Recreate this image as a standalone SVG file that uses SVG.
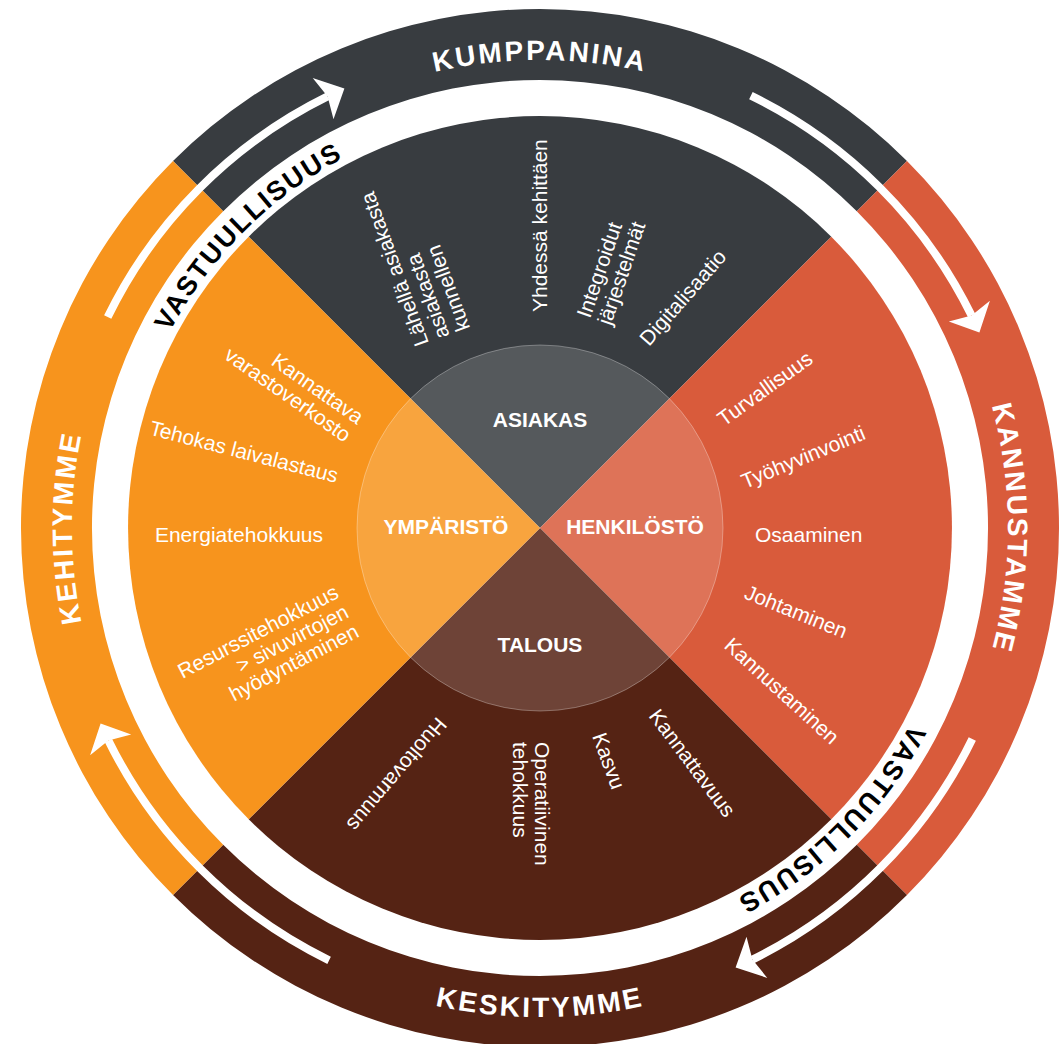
<svg xmlns="http://www.w3.org/2000/svg" xmlns:xlink="http://www.w3.org/1999/xlink" width="1063" height="1044" viewBox="0 0 1063 1044">
<style>
.item{font-family:"Liberation Sans",Arial,sans-serif;font-size:21px;fill:#fff}
.hub{font-family:"Liberation Sans",Arial,sans-serif;font-size:21px;font-weight:bold;fill:#fff;text-anchor:middle}
.ring{font-family:"Liberation Sans",Arial,sans-serif;font-size:28px;font-weight:bold;fill:#fff;letter-spacing:2.5px}
.band{font-family:"Liberation Sans",Arial,sans-serif;font-size:27px;font-weight:bold;fill:#000;letter-spacing:2px}
.end{text-anchor:end}
</style>
<defs>
<path id="seg" d="M173,161 A519,519 0 0 1 907,161 L856.8,211.2 A448,448 0 0 0 223.2,211.2 Z"/>
<path id="sector" d="M540,528 L248.7,236.7 A412,412 0 0 1 831.3,236.7 Z"/>
<path id="pBand" d="M121,528 A419,419 0 0 1 540,109"/>
<path id="pTop" d="M72,528 A468,468 0 0 1 1008,528"/>
<path id="pRight" d="M540,60 A468,468 0 0 1 540,996"/>
<path id="pLeft" d="M540,996 A468,468 0 0 1 540,60"/>
<path id="pBottom" d="M51,528 A489,489 0 0 0 1029,528"/>
<g id="arrow">
<path d="M972.3,738.9 A481,481 0 0 1 752.4,959.6" fill="none" stroke="#fff" stroke-width="8"/>
<polygon points="735.6,967.4 746.5,936.8 752.4,959.6 767.3,977.9" fill="#fff"/>
</g>
</defs>

<g id="outer-ring">
<use href="#seg" fill="#383c40"/>
<use href="#seg" fill="#d95b3b" transform="rotate(90 540 528)"/>
<use href="#seg" fill="#552314" transform="rotate(180 540 528)"/>
<use href="#seg" fill="#f7941d" transform="rotate(270 540 528)"/>
</g>

<g id="connectors">
<use href="#arrow"/>
<use href="#arrow" transform="rotate(90 540 528)"/>
<use href="#arrow" transform="rotate(180 540 528)"/>
<use href="#arrow" transform="rotate(270 540 528)"/>
</g>

<g id="ring-labels">
<text class="ring"><textPath href="#pTop" startOffset="50%" text-anchor="middle">KUMPPANINA</textPath></text>
<text class="ring"><textPath href="#pRight" startOffset="50%" text-anchor="middle">KANNUSTAMME</textPath></text>
<text class="ring"><textPath href="#pBottom" startOffset="50%" text-anchor="middle">KESKITYMME</textPath></text>
<text class="ring"><textPath href="#pLeft" startOffset="50%" text-anchor="middle">KEHITYMME</textPath></text>
</g>

<g id="band-labels">
<text class="band"><textPath href="#pBand" startOffset="50%" text-anchor="middle">VASTUULLISUUS</textPath></text>
<text class="band" transform="rotate(180 540 528)"><textPath href="#pBand" startOffset="50%" text-anchor="middle">VASTUULLISUUS</textPath></text>
</g>

<g id="asiakas">
<use href="#sector" fill="#383c40"/>
<text class="item" transform="translate(429,343) rotate(-110)"><tspan x="0" y="0">Lähellä asiakasta</tspan><tspan x="0" y="22">asiakasta</tspan><tspan x="0" y="44">kunnellen</tspan></text>
<text class="item" transform="translate(546.5,312) rotate(-90)">Yhdessä kehittäen</text>
<text class="item" transform="translate(590,319) rotate(-71)"><tspan x="0" y="0">Integroidut</tspan><tspan x="0" y="22">järjestelmät</tspan></text>
<text class="item" transform="translate(649,347) rotate(-48.7)">Digitalisaatio</text>
</g>

<g id="henkilosto">
<use href="#sector" fill="#d95b3b" transform="rotate(90 540 528)"/>
<text class="item" transform="translate(724,427) rotate(-35.8)">Turvallisuus</text>
<text class="item" transform="translate(745,489) rotate(-22.5)">Työhyvinvointi</text>
<text class="item" transform="translate(755,542)">Osaaminen</text>
<text class="item" transform="translate(743,598) rotate(22)">Johtaminen</text>
<text class="item" transform="translate(723,647) rotate(42.4)">Kannustaminen</text>
</g>

<g id="talous">
<use href="#sector" fill="#552314" transform="rotate(180 540 528)"/>
<text class="item" transform="translate(437,716) rotate(130.3)">Huoltovarmuus</text>
<text class="item" transform="translate(535,742) rotate(90)"><tspan x="0" y="0">Operatiivinen</tspan><tspan x="0" y="22">tehokkuus</tspan></text>
<text class="item" transform="translate(592,736) rotate(70)">Kasvu</text>
<text class="item" transform="translate(648,716) rotate(53.1)">Kannattavuus</text>
</g>

<g id="ymparisto">
<use href="#sector" fill="#f7941d" transform="rotate(270 540 528)"/>
<text class="item end" transform="translate(357,425) rotate(35)"><tspan x="0" y="0">Kannattava</tspan><tspan x="0" y="22">varastoverkosto</tspan></text>
<text class="item end" transform="translate(336,483) rotate(14.5)">Tehokas laivalastaus</text>
<text class="item end" transform="translate(323,542)">Energiatehokkuus</text>
<text class="item end" transform="translate(340,597) rotate(-27.5)"><tspan x="0" y="0">Resurssitehokkuus</tspan><tspan x="0" y="22">&gt; sivuvirtojen</tspan><tspan x="0" y="44">hyödyntäminen</tspan></text>
</g>

<g id="hub">
<circle cx="540" cy="528" r="183" fill="#fff" fill-opacity="0.15" stroke="#fff" stroke-opacity="0.3" stroke-width="1"/>
<text class="hub" x="540" y="427">ASIAKAS</text>
<text class="hub" x="446" y="534">YMPÄRISTÖ</text>
<text class="hub" x="635" y="534">HENKILÖSTÖ</text>
<text class="hub" x="540" y="652">TALOUS</text>
</g>
</svg>
